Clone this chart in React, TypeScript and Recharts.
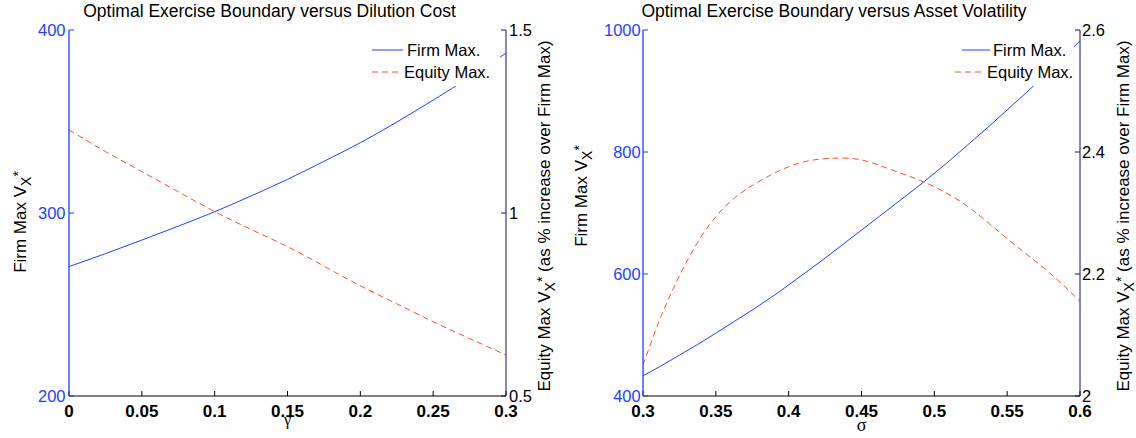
import React from 'react';
import { LineChart, Line, XAxis, YAxis, Legend } from 'recharts';

const FONT = '"Liberation Sans", Arial, Helvetica, sans-serif';
const SERIF = '"Liberation Serif", "Times New Roman", serif';
const BLUE = '#1f3fff';
const RED = '#ff4a26';
const NAVY = '#151560';
const EQUITY_DASH = '6 4';

// ---- Panel 1: versus dilution cost (gamma) ----
const gammaValues = [0, 0.025, 0.05, 0.075, 0.1, 0.125, 0.15, 0.175, 0.2, 0.225, 0.25, 0.275, 0.3];
const firmMaxByGamma = [270.7, 277.8, 285.2, 292.8, 300.7, 309.3, 318.4, 328.2, 338.4, 349.7, 361.7, 374.2, 387.3];
const equityMaxByGamma = [1.227, 1.168, 1.113, 1.058, 1.004, 0.955, 0.908, 0.855, 0.801, 0.752, 0.703, 0.657, 0.612];
const gammaTicks = [0, 0.05, 0.1, 0.15, 0.2, 0.25, 0.3];
const firmGammaTicks = [200, 300, 400];
const equityGammaTicks = [0.5, 1, 1.5];

// ---- Panel 2: versus asset volatility (sigma) ----
const sigmaValues = [
  0.3, 0.3125, 0.325, 0.3375, 0.35, 0.3625, 0.375, 0.3875, 0.4, 0.4125, 0.425, 0.4375, 0.45,
  0.4625, 0.475, 0.4875, 0.5, 0.5125, 0.525, 0.5375, 0.55, 0.5625, 0.575, 0.5875, 0.6,
];
const firmMaxBySigma = [
  433, 449.5, 467, 484.5, 503, 522, 541, 561, 582, 604, 626, 649, 672,
  695, 718, 741, 765, 790, 816, 842, 869, 896, 924, 953, 982,
];
const equityMaxBySigma = [
  2.051, 2.131, 2.197, 2.252, 2.294, 2.324, 2.345, 2.362, 2.376, 2.385, 2.389, 2.39, 2.387,
  2.378, 2.367, 2.356, 2.343, 2.327, 2.307, 2.283, 2.258, 2.234, 2.21, 2.184, 2.155,
];
const sigmaTicks = [0.3, 0.35, 0.4, 0.45, 0.5, 0.55, 0.6];
const firmSigmaTicks = [400, 600, 800, 1000];
const equitySigmaTicks = [2, 2.2, 2.4, 2.6];

const seriesNames = ['Firm Max.', 'Equity Max.'];

type Row = { x1: number; x2: number; y: number; tx: number };

function VLabel({ cx, cy, pre, post }: { cx: number; cy: number; pre: string; post: string }) {
  return (
    <text
      transform={`translate(${cx},${cy}) rotate(-90)`}
      textAnchor="middle"
      fontSize={17}
      fontFamily={FONT}
      fill="#000"
      style={{ whiteSpace: 'pre' }}
    >
      {pre}
      <tspan dy={5} fontSize={14}>X</tspan>
      <tspan dy={-8} fontSize={14}>*</tspan>
      <tspan dy={3}>{post}</tspan>
    </text>
  );
}

function BottomTick(props: any) {
  const { x, y, payload } = props;
  return (
    <text x={x} y={y} dy="0.71em" textAnchor="middle" fontSize={17} fontWeight="bold" fontFamily={FONT} fill="#000">
      {String(payload.value)}
    </text>
  );
}

function makeSideTick(anchor: 'start' | 'end', color: string) {
  return (props: any) => {
    const { x, y, payload } = props;
    return (
      <text x={x} y={y} dy="0.36em" textAnchor={anchor} fontSize={16.5} fontFamily={FONT} fill={color}>
        {String(payload.value)}
      </text>
    );
  };
}
const LeftTick = makeSideTick('end', BLUE);
const RightTick = makeSideTick('start', '#000');

function makeLegend(w: number, h: number, rows: Row[]) {
  return (props: any) => {
    const payload = props.payload || [];
    return (
      <div style={{ width: w, height: h, background: '#fff', overflow: 'visible' }}>
        <svg width={w} height={h} style={{ display: 'block', overflow: 'visible' }}>
          {payload.map((p: any) => {
            const idx = seriesNames.indexOf(p.value);
            const r = rows[idx];
            if (!r) return null;
            const dash = idx === 1 ? EQUITY_DASH : undefined;
            return (
              <g key={p.value}>
                <line x1={r.x1} x2={r.x2} y1={r.y} y2={r.y} stroke={p.color} strokeWidth={1} strokeDasharray={dash} />
                <text x={r.tx} y={r.y + 6} fontSize={16.5} fontFamily={FONT} fill="#000">
                  {p.value}
                </text>
              </g>
            );
          })}
        </svg>
      </div>
    );
  };
}

type PanelProps = {
  width: number;
  xs: number[];
  firm: number[];
  equity: number[];
  xDomain: [number, number];
  xTicks: number[];
  firmDomain: [number, number];
  firmTicks: number[];
  eqDomain: [number, number];
  eqTicks: number[];
  leftW: number;
  rightW: number;
  leftMargin: number;
  rightMargin: number;
  title: string;
  titleX: number;
  xLabel: string;
  xLabelX: number;
  xLabelY: number;
  xLabelSize: number;
  leftLabel: { cx: number; cy: number };
  rightLabel: { cx: number; cy: number };
  legend: { left: number; top: number; w: number; h: number; rows: Row[] };
};

function Panel(p: PanelProps) {
  const data = p.xs.map((x, i) => ({ x, firm: p.firm[i], equity: p.equity[i] }));
  return (
    <LineChart width={p.width} height={438} data={data} margin={{ top: 30, right: 0, bottom: 0, left: 0 }}>
      <XAxis
        dataKey="x"
        type="number"
        domain={p.xDomain}
        ticks={p.xTicks}
        interval={0}
        height={42}
        tickSize={-5}
        tickMargin={14}
        allowDataOverflow
        axisLine={{ stroke: '#000', strokeWidth: 1 }}
        tickLine={{ stroke: '#000' }}
        tick={<BottomTick />}
        label={() => (
          <text x={p.xLabelX} y={p.xLabelY} textAnchor="middle" fontSize={p.xLabelSize} fontFamily={SERIF} fill="#000">
            {p.xLabel}
          </text>
        )}
      />
      <XAxis
        xAxisId="top"
        orientation="top"
        dataKey="x"
        type="number"
        domain={p.xDomain}
        ticks={p.xTicks}
        interval={0}
        height={0}
        tickSize={-5}
        allowDataOverflow
        axisLine={{ stroke: '#000', strokeWidth: 1 }}
        tickLine={{ stroke: '#000' }}
        tick={false}
      />
      <YAxis
        yAxisId="L"
        orientation="left"
        width={p.leftW}
        domain={p.firmDomain}
        ticks={p.firmTicks}
        interval={0}
        tickSize={-5}
        tickMargin={p.leftMargin}
        allowDataOverflow
        axisLine={{ stroke: BLUE, strokeWidth: 1.3 }}
        tickLine={{ stroke: BLUE }}
        tick={<LeftTick />}
        label={() => (
          <g>
            <text x={p.titleX} y={17} textAnchor="middle" fontSize={17.5} fontFamily={FONT} fill="#000">
              {p.title}
            </text>
            <VLabel cx={p.leftLabel.cx} cy={p.leftLabel.cy} pre="Firm Max V" post="" />
          </g>
        )}
      />
      <YAxis
        yAxisId="R"
        orientation="right"
        width={p.rightW}
        domain={p.eqDomain}
        ticks={p.eqTicks}
        interval={0}
        tickSize={-5}
        tickMargin={p.rightMargin}
        allowDataOverflow
        axisLine={{ stroke: NAVY, strokeWidth: 1 }}
        tickLine={{ stroke: NAVY }}
        tick={<RightTick />}
        label={() => (
          <VLabel cx={p.rightLabel.cx} cy={p.rightLabel.cy} pre="Equity Max V" post=" (as % increase over Firm Max)" />
        )}
      />
      <Line
        yAxisId="L"
        dataKey="firm"
        name={seriesNames[0]}
        type="natural"
        stroke={BLUE}
        strokeWidth={1}
        dot={false}
        activeDot={false}
        isAnimationActive={false}
      />
      <Line
        yAxisId="R"
        dataKey="equity"
        name={seriesNames[1]}
        type="natural"
        stroke={RED}
        strokeWidth={1}
        strokeDasharray={EQUITY_DASH}
        dot={false}
        activeDot={false}
        isAnimationActive={false}
      />
      <Legend
        layout="vertical"
        align="center"
        verticalAlign="middle"
        content={makeLegend(p.legend.w, p.legend.h, p.legend.rows)}
        wrapperStyle={{ left: p.legend.left, top: p.legend.top, width: p.legend.w, height: p.legend.h, margin: 0, padding: 0, lineHeight: 0 }}
      />
    </LineChart>
  );
}

export default function App() {
  return (
    <div style={{ position: 'absolute', left: 0, top: 0, width: 1136, height: 438, background: '#fff', display: 'flex' }}>
      <Panel
        width={568}
        xs={gammaValues}
        firm={firmMaxByGamma}
        equity={equityMaxByGamma}
        xDomain={[0, 0.3]}
        xTicks={gammaTicks}
        firmDomain={[200, 400]}
        firmTicks={firmGammaTicks}
        eqDomain={[0.5, 1.5]}
        eqTicks={equityGammaTicks}
        leftW={69}
        rightW={62}
        leftMargin={8.5}
        rightMargin={8}
        title="Optimal Exercise Boundary versus Dilution Cost"
        titleX={269.5}
        xLabel="γ"
        xLabelX={287.5}
        xLabelY={425}
        xLabelSize={16}
        leftLabel={{ cx: 26, cy: 222 }}
        rightLabel={{ cx: 550, cy: 216 }}
        legend={{
          left: 366,
          top: 38,
          w: 134,
          h: 48,
          rows: [
            { x1: 6, x2: 37, y: 12, tx: 41 },
            { x1: 6, x2: 34, y: 34, tx: 38 },
          ],
        }}
      />
      <Panel
        width={568}
        xs={sigmaValues}
        firm={firmMaxBySigma}
        equity={equityMaxBySigma}
        xDomain={[0.3, 0.6]}
        xTicks={sigmaTicks}
        firmDomain={[400, 1000]}
        firmTicks={firmSigmaTicks}
        eqDomain={[2, 2.6]}
        eqTicks={equitySigmaTicks}
        leftW={75}
        rightW={56}
        leftMargin={7.3}
        rightMargin={7}
        title="Optimal Exercise Boundary versus Asset Volatility"
        titleX={266}
        xLabel="σ"
        xLabelX={293.5}
        xLabelY={431}
        xLabelSize={18}
        leftLabel={{ cx: 19, cy: 196 }}
        rightLabel={{ cx: 561, cy: 216 }}
        legend={{
          left: 382,
          top: 38,
          w: 124,
          h: 48,
          rows: [
            { x1: 12, x2: 40, y: 12, tx: 43 },
            { x1: 5, x2: 33, y: 34, tx: 37 },
          ],
        }}
      />
    </div>
  );
}
